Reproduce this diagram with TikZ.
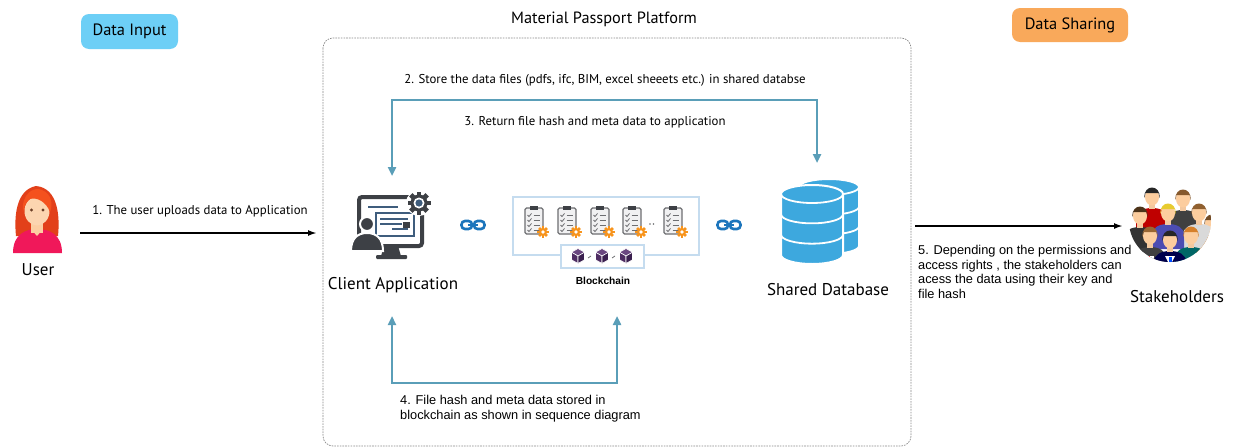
\documentclass[tikz,border=0pt]{standalone}
\usepackage{fontspec}
\setmainfont{PT Sans}
\newfontfamily\notefont{Liberation Sans}
\usetikzlibrary{arrows.meta}

\definecolor{inputblue}{HTML}{6DCFF6}
\definecolor{shareorange}{HTML}{F9A95B}
\definecolor{flowblue}{HTML}{5A9EB8}
\definecolor{icondark}{HTML}{3D4045}
\definecolor{iconsteel}{HTML}{3F5D7D}
\definecolor{linkblue}{HTML}{1C75BC}
\definecolor{dbblue}{HTML}{3DA8DE}
\definecolor{clipgray}{HTML}{6D6E71}
\definecolor{clipfill}{HTML}{F1F1F2}
\definecolor{gearorange}{HTML}{F7941D}
\definecolor{cubetop}{HTML}{6A4780}
\definecolor{cubeleft}{HTML}{4F2D63}
\definecolor{cuberight}{HTML}{3B2050}
\definecolor{panelline}{HTML}{C5DCEF}
\definecolor{hairred}{HTML}{F4511E}
\definecolor{hairdark}{HTML}{E2401A}
\definecolor{skin}{HTML}{FCD5B0}
\definecolor{shirtpink}{HTML}{F0185A}
\definecolor{eyebrown}{HTML}{6B3E26}
\definecolor{frameGray}{HTML}{8A8A8A}

% gear: centre x, centre y, body radius, tooth half-width, tooth length, colour
\newcommand\mpGear[6]{%
  \fill[#6] (#1,#2) circle (#3);
  \foreach \ga in {0,45,...,315}{
    \fill[#6, shift={(#1,#2)}, rotate=\ga] (-#4,-#3-#5) rectangle (#4,0);
  }
}

% clipboard with a small orange gear
\newcommand\mpClip[2]{%
  \filldraw[fill=clipfill, draw=clipgray, line width=1.2, rounded corners=1.5]
    (#1-9,#2-13) rectangle (#1+9,#2+13);
  \fill[icondark] (#1-4,#2-15) rectangle (#1+4,#2-11);
  \foreach \rw in {-6,-1,4,9}{
    \draw[clipgray, line width=0.8] (#1-6.5,#2+\rw) -- (#1-5,#2+\rw+1.5) -- (#1-2.5,#2+\rw-1.5);
    \draw[clipgray, line width=0.9] (#1-0.5,#2+\rw) -- (#1+6,#2+\rw);
  }
  \mpGear{#1+9}{#2+11}{4}{1.3}{1.6}{gearorange}
  \fill[white] (#1+9,#2+11) circle (1.8);
}

% isometric cube
\newcommand\mpCube[3]{%
  \filldraw[fill=cubetop, draw=white, line width=0.6]
    (#1,#2-#3) -- (#1+0.87*#3,#2-0.5*#3) -- (#1,#2) -- (#1-0.87*#3,#2-0.5*#3) -- cycle;
  \filldraw[fill=cubeleft, draw=white, line width=0.6]
    (#1-0.87*#3,#2-0.5*#3) -- (#1,#2) -- (#1,#2+#3) -- (#1-0.87*#3,#2+0.5*#3) -- cycle;
  \filldraw[fill=cuberight, draw=white, line width=0.6]
    (#1,#2) -- (#1+0.87*#3,#2-0.5*#3) -- (#1+0.87*#3,#2+0.5*#3) -- (#1,#2+#3) -- cycle;
}

% chain link
\newcommand\mpLink[2]{%
  \draw[linkblue, line width=2.6, rounded corners=3.5] (#1-11.5,#2-4) rectangle (#1-1,#2+4);
  \draw[linkblue, line width=2.6, rounded corners=3.5] (#1+1,#2-4) rectangle (#1+11.5,#2+4);
  \draw[linkblue, line width=2.6] (#1-5,#2) -- (#1+5,#2);
}

% cylinder stack: centre x, top y, bottom y, x radius, y radius
\newcommand\mpCylinder[5]{%
  \filldraw[fill=dbblue, draw=white, line width=2]
    (#1-#4,#2) -- (#1-#4,#3) arc[start angle=180, end angle=0, x radius=#4, y radius=#5]
    -- (#1+#4,#2) arc[start angle=0, end angle=-180, x radius=#4, y radius=#5] -- cycle;
  \foreach \lv in {0,1,2}{
    \draw[white, line width=1.8]
      (#1-#4,{#2+\lv*(#3-#2)/3}) arc[start angle=180, end angle=0, x radius=#4, y radius=#5];
  }
}

% stakeholder figure: head x, head y, hair, shirt
\newcommand\mpPerson[4]{%
  \fill[#4] (#1-16,#2+36) -- (#1-16,#2+22) .. controls (#1-16,#2+14) and (#1-8,#2+11) .. (#1,#2+11)
     .. controls (#1+8,#2+11) and (#1+16,#2+14) .. (#1+16,#2+22) -- (#1+16,#2+36) -- cycle;
  \fill[skin!85!brown] (#1-3,#2+5) rectangle (#1+3,#2+12);
  \fill[skin!90!orange] (#1,#2) ellipse (7 and 8.5);
  \fill[#3] (#1-7.5,#2+1) .. controls (#1-9,#2-13) and (#1+9,#2-13) .. (#1+7.5,#2+1)
     -- (#1+6.5,#2-4) -- (#1-6.5,#2-4) -- cycle;
}

\tikzset{
  badge/.style={rounded corners=8, minimum height=35, inner sep=0,
    font=\fontsize{16.4}{18}\selectfont},
  flow/.style={draw=flowblue, line width=2.4,
    arrows={Triangle[length=9,width=8]-Triangle[length=9,width=8]}},
  blackflow/.style={draw=black, line width=1.8, -{Latex[length=9,width=6]}},
  note/.style={font=\fontsize{12.8}{15}\selectfont, inner sep=0},
  longnote/.style={font=\notefont\fontsize{12.8}{14.6}\selectfont, align=left, inner sep=0},
  iconlabel/.style={font=\fontsize{17}{19}\selectfont, inner sep=0},
}

\begin{document}
\begin{tikzpicture}[x=1pt,y=-1pt]
\useasboundingbox (0,0) rectangle (1236,447);
\fill[white] (0,0) rectangle (1236,447);

% platform frame
\draw[frameGray, line width=0.7, dash pattern=on 1.6 off 1.1, rounded corners=10]
  (323,38) rectangle (911,446);
\node[font=\fontsize{16.3}{18}\selectfont, inner sep=0] (platform) at (604,19) {Material Passport Platform};

% badges
\node[badge, fill=inputblue, minimum width=97] (datainput) at (129.5,31.5) {Data Input};
\node[badge, fill=shareorange, minimum width=116, minimum height=34] (datasharing) at (1070,25) {Data Sharing};

% ---- user icon ----
\fill[hairdark] (16,236) .. controls (14,216) and (16,190) .. (36,186)
  .. controls (58,188) and (60,216) .. (58,236) -- cycle;
\fill[shirtpink] (13,253) .. controls (13,234) and (26,229) .. (37,229)
  .. controls (49,229) and (62,234) .. (62,253) -- cycle;
\fill[skin!92!orange] (31,220) rectangle (43,233);
\fill[skin!92!orange] (31,229) -- (37,236) -- (43,229) -- cycle;
\fill[skin] (37,211) ellipse (12.5 and 14.5);
\fill[hairred] (23,212) .. controls (21,194) and (34,186) .. (42,190)
  .. controls (52,194) and (53,205) .. (50,212)
  .. controls (46,201) and (36,197) .. (30,199)
  .. controls (26,202) and (24,207) .. (23,212) -- cycle;
\fill[eyebrown] (31.5,210) circle (1.6);
\fill[eyebrown] (43,210) circle (1.6);
\node[iconlabel] (userlabel) at (38,270) {User};

% ---- client application icon ----
\draw[icondark, line width=4, rounded corners=3] (359,197) rectangle (422,246);
\fill[icondark] (384,246) -- (398,246) -- (401,256) -- (381,256) -- cycle;
\fill[icondark, rounded corners=1] (376,255) rectangle (407,259);
\draw[iconsteel, line width=1.6] (368,207) -- (398,207);
\fill[iconsteel] (370,207) circle (0.9) (373.5,207) circle (0.9) (377,207) circle (0.9);
\draw[iconsteel, line width=1.4] (376,213) rectangle (414,236);
\draw[iconsteel, line width=1.4] (380,219) -- (408,219) (380,224) -- (402,224)
  (392,229) -- (408,229);
\fill[icondark] (403,222) rectangle (410,228);
\filldraw[icondark, draw=white, line width=2] (351,251) .. controls (351,238) and (358,233) .. (367,233)
  .. controls (376,233) and (383,238) .. (383,251) -- cycle;
\filldraw[icondark, draw=white, line width=2] (367,224) circle (7);
\fill[white] (419,203) circle (13);
\mpGear{419}{203}{8.5}{2.4}{3}{icondark}
\fill[white] (419,203) circle (5.5);
\fill[iconsteel] (419,203) circle (3.6);
\node[iconlabel] (client) at (393,285) {Client Application};

% ---- chain links ----
\mpLink{473}{225}
\mpLink{729}{225}

% ---- blockchain panel ----
\draw[panelline, fill=white, line width=1.2] (513,197) rectangle (699,255);
\mpClip{534}{221}
\mpClip{567}{221}
\mpClip{600}{221}
\mpClip{632}{221}
\fill[clipgray] (650,224) circle (0.9) (653.5,224) circle (0.9);
\mpClip{673}{221}
\draw[panelline, fill=white, line width=1.2] (561,245) rectangle (644,268);
\mpCube{578}{256}{7.5}
\mpCube{602}{256}{7.5}
\mpCube{626}{256}{7.5}
\draw[clipgray, line width=0.8] (588,258) -- (591,256) (612,258) -- (615,256);
\node[font=\notefont\bfseries\fontsize{10.2}{12}\selectfont, inner sep=0] (blockchain) at (603,281) {Blockchain};

% ---- shared database icon ----
\mpCylinder{829}{187}{246}{30}{8}
\mpCylinder{812}{194}{255}{31}{9}
\node[iconlabel] (database) at (828,290) {Shared Database};

% ---- stakeholders ----
\begin{scope}
\clip (1170,221) circle (41);
\mpPerson{1152}{197}{black!85}{red!75!black}
\mpPerson{1183}{199}{brown!70!black}{black!75}
\mpPerson{1140}{216}{brown!40!black}{black!80}
\mpPerson{1212}{224}{brown!60!black}{orange!80!black}
\mpPerson{1199}{213}{brown!75!black}{gray!30}
\mpPerson{1168}{213}{yellow!60!brown}{gray!60!blue}
\mpPerson{1150}{236}{brown!80!black}{black!75}
\mpPerson{1191}{236}{brown!65!orange}{teal!80!black}
\mpPerson{1170}{240}{black!85}{black!70!blue}
\fill[white] (1165,256) -- (1170,256) -- (1175,256) -- (1170,266) -- cycle;
\fill[blue!70!cyan] (1168.5,257) rectangle (1171.5,266);
\fill[white] (1144,256) rectangle (1154,266);
\fill[red] (1148,256) rectangle (1150,266);
\end{scope}
\node[iconlabel] (stakeholders) at (1177,297) {Stakeholders};

% ---- connectors ----
\coordinate (clientTop) at (392,176);
\coordinate (dbTop) at (817,163);
\coordinate (storeRail) at (604,100);
\draw[flow] (clientTop) |- (storeRail) -| (dbTop);

\coordinate (clientBottom) at (392,316);
\coordinate (chainBottom) at (617,316);
\coordinate (chainRail) at (504,383);
\draw[flow] (clientBottom) |- (chainRail) -| (chainBottom);

\coordinate (userOut) at (80,233);
\coordinate (clientIn) at (317,233);
\draw[blackflow] (userOut) -- (clientIn);

\coordinate (dbOut) at (915,226);
\coordinate (stakeIn) at (1123,226);
\draw[blackflow] (dbOut) -- (stakeIn);

% ---- step notes ----
\node[note] (step1) at (200,211) {1. The user uploads data to Application};
\node[note] (step2) at (605,80) {2. Store the data files (pdfs, ifc, BIM, excel sheeets etc.) in shared databse};
\node[note] (step3) at (595,122) {3. Return file hash and meta data to application};
\node[longnote, anchor=north west] (step4) at (400,395)
  {4. File hash and meta data stored in\\blockchain as shown in sequence diagram};
\node[longnote, anchor=north west] (step5) at (918,245)
  {5. Depending on the permissions and\\access rights , the stakeholders can\\acess the data using their key and\\file hash};
\end{tikzpicture}
\end{document}
